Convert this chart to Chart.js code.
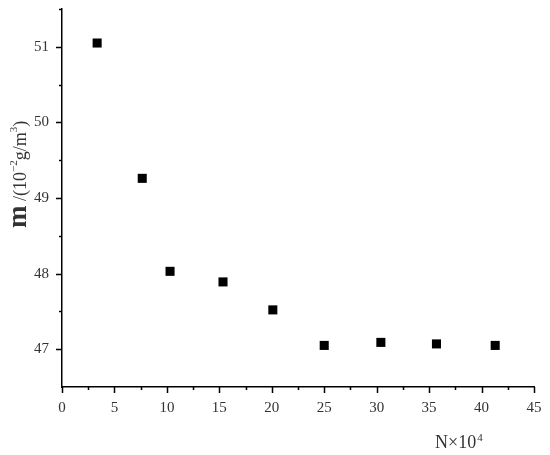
<!DOCTYPE html>
<html>
<head>
<meta charset="utf-8">
<script src="https://cdn.jsdelivr.net/npm/chart.js@4"></script>
<style>
html,body{margin:0;padding:0;background:#fff;}
#wrap{position:relative;width:550px;height:455px;}
</style>
</head>
<body>
<div id="wrap"><canvas id="c" width="550" height="455"></canvas></div>
<script>
// Data
const nValues = [3.35, 7.65, 10.3, 15.35, 20.1, 25.0, 30.4, 35.7, 41.3];
const mValues = [51.05, 49.26, 48.03, 47.89, 47.52, 47.05, 47.09, 47.07, 47.05];
const xTickValues = [0, 5, 10, 15, 20, 25, 30, 35, 40, 45];
const yTickValues = [47, 48, 49, 50, 51];
const xMinorValues = [2.5, 7.5, 12.5, 17.5, 22.5, 27.5, 32.5, 37.5, 42.5];
const yMinorValues = [47.5, 48.5, 49.5, 50.5, 51.5];
const xTitle = 'N×10';
const xTitleSup = '4';
const yTitleParts = [
  {t: 'm', size: 27, sup: false},
  {t: ' /(10', size: 18, sup: false},
  {t: '−2', size: 11, sup: true},
  {t: 'g/m', size: 18, sup: false},
  {t: '3', size: 11, sup: true},
  {t: ')', size: 18, sup: false}
];

const points = nValues.map((x, i) => ({x: x, y: mValues[i]}));

const tickPlugin = {
  id: 'ticksAndTitles',
  afterDraw(chart) {
    const ctx = chart.ctx;
    const xs = chart.scales.x, ys = chart.scales.y;
    const area = chart.chartArea;
    ctx.save();
    ctx.strokeStyle = '#000';
    ctx.lineWidth = 1.5;
    ctx.beginPath();
    xTickValues.forEach(v => { const p = Math.round(xs.getPixelForValue(v)) + 0.5; ctx.moveTo(p, area.bottom); ctx.lineTo(p, area.bottom + 6); });
    xMinorValues.forEach(v => { const p = Math.round(xs.getPixelForValue(v)) + 0.5; ctx.moveTo(p, area.bottom); ctx.lineTo(p, area.bottom + 3); });
    yTickValues.forEach(v => { const p = Math.round(ys.getPixelForValue(v)) + 0.5; ctx.moveTo(area.left, p); ctx.lineTo(area.left - 6, p); });
    yMinorValues.forEach(v => { const p = Math.round(ys.getPixelForValue(v)) + 0.5; ctx.moveTo(area.left, p); ctx.lineTo(area.left - 3, p); });
    ctx.stroke();

    // x title
    ctx.fillStyle = '#333';
    ctx.textBaseline = 'alphabetic';
    ctx.textAlign = 'left';
    ctx.font = '18px "Liberation Serif", serif';
    const xw = ctx.measureText(xTitle).width;
    const xt0 = 435;
    ctx.fillText(xTitle, xt0, 448);
    ctx.font = '11px "Liberation Serif", serif';
    ctx.fillText(xTitleSup, xt0 + xw + 1, 441);

    // y title (rotated)
    ctx.translate(26, 228);
    ctx.rotate(-Math.PI / 2);
    let pos = 0;
    yTitleParts.forEach(part => {
      ctx.font = (part.t === 'm' ? 'bold ' : '') + part.size + 'px "Liberation Serif", serif';
      ctx.fillText(part.t, pos, part.sup ? -9 : 0);
      pos += ctx.measureText(part.t).width;
    });
    ctx.restore();
  }
};

new Chart(document.getElementById('c'), {
  type: 'scatter',
  data: {
    datasets: [{
      data: points,
      pointStyle: 'rect',
      pointRadius: 6.4,
      pointHoverRadius: 6.4,
      backgroundColor: '#000',
      borderColor: '#000',
      borderWidth: 0
    }]
  },
  options: {
    responsive: false,
    animation: false,
    events: [],
    layout: {padding: {left: 0, top: 9, right: 16, bottom: 0}},
    plugins: {legend: {display: false}, tooltip: {enabled: false}},
    scales: {
      x: {
        type: 'linear',
        min: 0, max: 45,
        afterBuildTicks: s => { s.ticks = xTickValues.map(v => ({value: v})); },
        afterFit: s => { s.height = 68; s.paddingLeft = 0; s.paddingRight = 0; },
        grid: {display: false, drawTicks: false},
        border: {display: true, color: '#000', width: 1.5},
        ticks: {padding: 12, color: '#333', font: {family: '"Liberation Serif", serif', size: 15}, maxRotation: 0}
      },
      y: {
        type: 'linear',
        min: 46.5, max: 51.5,
        afterBuildTicks: s => { s.ticks = yTickValues.map(v => ({value: v})); },
        afterFit: s => { s.width = 62; s.paddingTop = 0; s.paddingBottom = 0; },
        grid: {display: false, drawTicks: false},
        border: {display: true, color: '#000', width: 1.5},
        ticks: {padding: 13, color: '#333', font: {family: '"Liberation Serif", serif', size: 15}}
      }
    }
  },
  plugins: [tickPlugin]
});
</script>
</body>
</html>
